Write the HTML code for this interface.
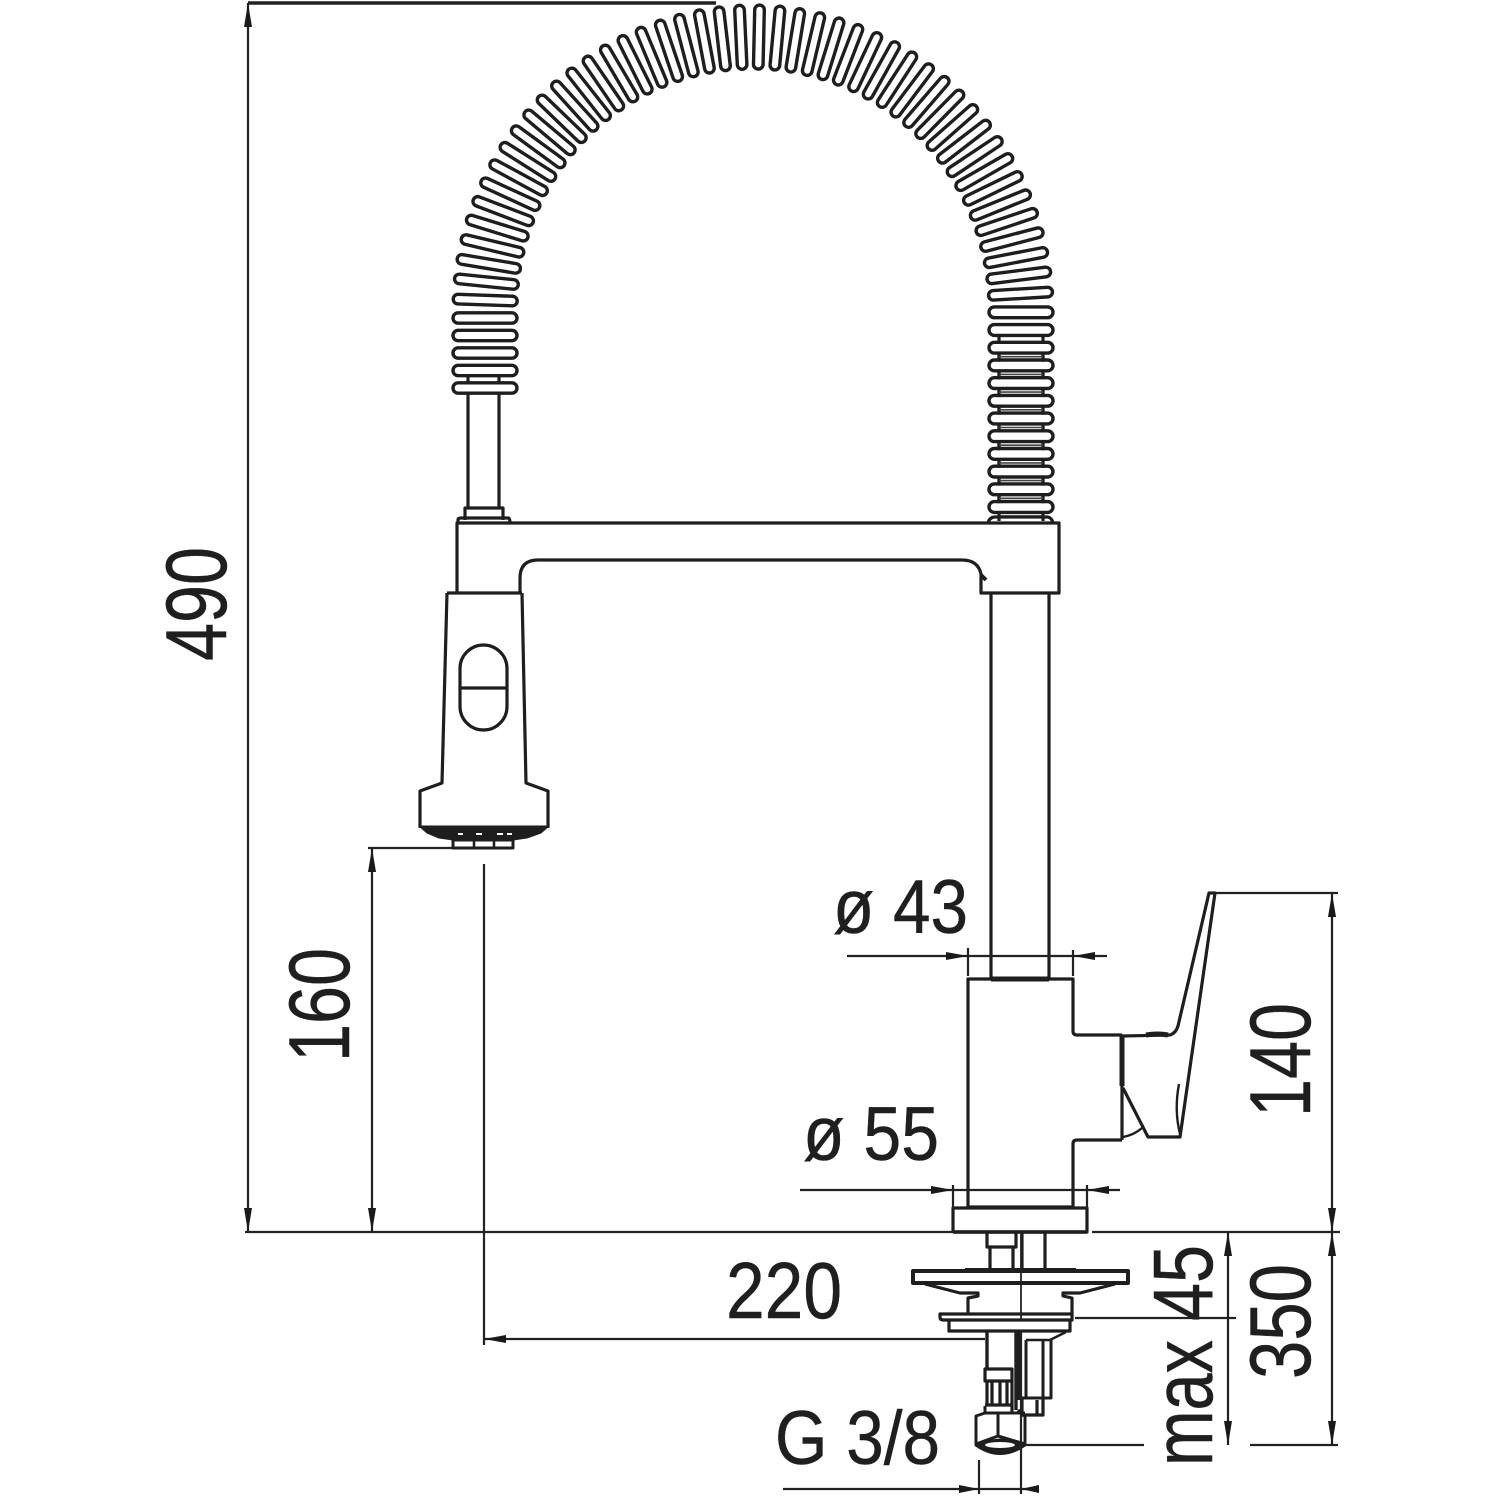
<!DOCTYPE html>
<html><head><meta charset="utf-8"><style>
html,body{margin:0;padding:0;background:#fff}
svg{display:block}
text{font-family:"Liberation Sans",sans-serif;fill:#1f1f1f;stroke:#1f1f1f;stroke-width:.5}
</style></head><body>
<svg id="s" width="1500" height="1500" viewBox="0 0 1500 1500" xmlns="http://www.w3.org/2000/svg">
<rect width="1500" height="1500" fill="#fff"/>
<g id="spring"></g>

<g fill="none" stroke="#1e1e1e" stroke-width="3.2" stroke-linejoin="round">
<!-- left post -->
<path d="M468 393V508M499 393V508M468 376V383M499 376V383"/>
<path d="M465 520V508H503V520M458 523V520Q458 518 461 518H508Q510 518 510 523" />
<!-- bridge -->
<path d="M457 592V523H1059V593H981V574Q978 560 962 560H538Q520 560 520 578V592"/>
<path d="M981 575L986 580" stroke-width="4"/>
<path d="M988 523Q989 518 994 517H1048Q1052 518 1053 523"/>
<!-- spray head -->
<path d="M447 593H522M447 593L442 783L420 791V828M522 593L526 783L548 791V828"/>
<rect x="460" y="645" width="47" height="85" rx="23.5"/>
<path d="M460 688H507"/>
<path d="M419 826H549L541 833L527 838L513 840H453L439 838L427 833Z" fill="#1e1e1e" stroke-width="1"/>
<path d="M458 834h5M476 834h6M497 834h6M507 834h5" stroke="#fff" stroke-width="2"/>
<path d="M453 840H513V848H453Z" stroke-width="3" fill="#fff"/>
<path d="M474 840V848M494 840V848" stroke-width="2.5"/>
<!-- column -->
<path d="M991 593V979M1049 593V979"/>
<path d="M991 979H1049" stroke-width="5"/>
<!-- body -->
<path d="M968 1207V979H1073V1031Q1073 1035 1077 1035H1122"/>
<path d="M968 1207H1073V1144Q1073 1140 1077 1140H1122"/>
<path d="M1122 1036V1086" stroke-width="5"/>
<path d="M1122 1086V1140"/>
<!-- handle -->
<path d="M1122 1036L1170 1035Q1176 1033 1178 1026L1209 893H1215L1180 1137H1148L1123 1088"/>
<path d="M1146 1035Q1158 1033 1168 1035" stroke-width="5"/>
<path d="M1123 1137Q1134 1135 1142 1128" stroke-width="2.4"/>
<path d="M1179 1084Q1174 1110 1180 1134" stroke-width="2.4"/>
<!-- flange -->
<path d="M953 1232V1208H1087V1232H953" />
<path d="M953 1232H1087" stroke-width="3.6"/>
<!-- under deck -->
<path d="M987 1233V1247H990V1270M1016 1233V1247H1013V1270"/>
<path d="M990 1247H1013"/>
<path d="M1022 1233V1270M1045 1233V1270"/>
<rect x="913" y="1271" width="215" height="12" stroke-width="4"/>
<path d="M965 1270H1076" stroke-width="4"/>
<path d="M925 1284L960 1293H978V1296L968 1298V1314M1115 1284L1080 1293H1063V1296L1072 1298V1314"/>
<path d="M940 1314H1072V1320H943Q940 1320 940 1317Z" />
<path d="M949 1320V1331H1070V1320"/>
<path d="M987 1331V1368M1016 1331V1410" stroke-width="3.4"/>
<path d="M1018 1331V1400" stroke-width="5"/>
<path d="M1026 1340V1398M1043 1340V1398M1051 1340V1398H1020" stroke-width="3"/>
<path d="M1026 1340H1050L1066 1332" stroke-width="2.4"/>
<path d="M1022 1398V1415H1043V1398M1018 1410L1024 1416M1037 1400V1414"/>
<path d="M985 1369H1012V1381H985Z M992 1381V1404M1000 1381V1404M1007 1381V1404M987 1381V1405M1012 1381V1405"/>
<path d="M985 1405H1012V1413"/>
<path d="M985 1406V1413L976 1416V1444M1025 1416V1444M985 1413H1025M998 1413V1436M976 1444L998 1436L1025 1444" stroke-width="3"/>
<path d="M976 1445Q1000 1462 1025 1445Q1015 1441 1000 1440Q985 1441 976 1445Z" fill="#1e1e1e" stroke-width="3"/>
<ellipse cx="1000" cy="1445" rx="15" ry="3" fill="#fff" stroke="none"/>
</g>

<!-- dimension lines -->
<g fill="none" stroke="#222" stroke-width="2.2">
<path d="M245 1232H953M1092 1232H1340"/>
<path d="M248 3V1232" />
<path d="M248 3H716" stroke-width="3.4"/>
<path d="M368 848H453M372 848V1232"/>
<path d="M484 864V1345M484 1339H985"/>
<path d="M1214 893H1338M1332 893V1445M1250 1445H1338"/>
<path d="M1228 1232V1445M1075 1318H1236M1025 1445H1144"/>
<path d="M847 956H1107M968 948V976M1073 950V976"/>
<path d="M800 1190H1120M953 1185V1208M1087 1185V1208"/>
<path d="M783 1489H1039M979 1460V1494M1021 1330V1494"/>
<path d="M1021 1233V1320" stroke-width="1.8"/>
</g>
<g fill="#1a1a1a">
<path d="M248 3l-4 24h8zM248 1232l-4-24h8z"/>
<path d="M372 848l-4 24h8zM372 1232l-4-24h8z"/>
<path d="M1332 893l-4 24h8zM1332 1232l-4-24h8zM1332 1232l-4 24h8zM1332 1445l-4-24h8z"/>
<path d="M1228 1232l-4 24h8zM1228 1445l-4-24h8z"/>
<path d="M484 1339l22-4v8z"/>
<path d="M968 956l-22-4v8zM1073 956l22-4v8z"/>
<path d="M953 1190l-22-4v8zM1087 1190l22-4v8z"/>
<path d="M979 1489l-20-4v8zM1021 1489l18-4v8z"/>
</g>

<!-- labels -->
<text transform="translate(226,661) rotate(-90)" font-size="86" textLength="114" lengthAdjust="spacingAndGlyphs">490</text>
<text transform="translate(349,1062) rotate(-90)" font-size="86" textLength="114" lengthAdjust="spacingAndGlyphs">160</text>
<text transform="translate(1310,1117) rotate(-90)" font-size="86" textLength="114" lengthAdjust="spacingAndGlyphs">140</text>
<text transform="translate(1310,1379) rotate(-90)" font-size="86" textLength="115" lengthAdjust="spacingAndGlyphs">350</text>
<text transform="translate(1212,1321) rotate(-90)" font-size="84" textLength="76" lengthAdjust="spacingAndGlyphs">45</text>
<text transform="translate(1212,1466) rotate(-90)" font-size="84" textLength="126" lengthAdjust="spacingAndGlyphs">max</text>
<text x="726" y="1318" font-size="80" textLength="116" lengthAdjust="spacingAndGlyphs">220</text>
<text x="833" y="933" font-size="76" textLength="135" lengthAdjust="spacingAndGlyphs">ø 43</text>
<text x="803" y="1160" font-size="76" textLength="136" lengthAdjust="spacingAndGlyphs">ø 55</text>
<text x="775" y="1464" font-size="76" textLength="165" lengthAdjust="spacingAndGlyphs">G 3/8</text>
</svg>
<script>
(function(){
var g=document.getElementById('spring');
var out='',i,k,y;
function pill(x,yy,ang,h,rail){
 var tr='translate('+x.toFixed(1)+' '+yy.toFixed(1)+') rotate('+ang.toFixed(1)+')';
 if(rail)out+='<path transform="'+tr+'" d="M-22 -14V14M22 -14V14" stroke="#1e1e1e" stroke-width="3.2" fill="none"/><path transform="'+tr+'" d="M-22 9H22" stroke="#444" stroke-width="1.6" fill="none"/>';
 out+='<rect transform="'+tr+'" x="-32" y="'+(-h/2)+'" width="64" height="'+h+'" rx="'+(h/2)+'" fill="#fff" stroke="#1e1e1e" stroke-width="3.4"/>';
}
/* arc */
var a=268,b=273,cx=753,cy=310,pts=[],s=[0];
for(i=0;i<=2000;i++){var t=Math.PI*i/2000;pts.push([cx-a*Math.cos(t),cy-b*Math.sin(t)]);
 if(i)s[i]=s[i-1]+Math.hypot(pts[i][0]-pts[i-1][0],pts[i][1]-pts[i-1][1]);}
var L=s[2000],N=45,d0=10,d1=L-16;
k=0;
for(var n=0;n<=N;n++){
 var d=d0+(d1-d0)*n/N;while(k<1999&&s[k+1]<d)k++;
 var pp=pts[Math.max(0,k-10)],qq=pts[Math.min(2000,k+10)];
 var ang=Math.atan2(qq[1]-pp[1],qq[0]-pp[0])*180/Math.PI+90;
 pill(pts[k][0],pts[k][1],ang,9.6,false);
}
/* left straight */
[318,335.5,353,370.5,388].forEach(function(v){pill(485,v,0,10.4,false);});
/* right straight */
for(i=0;i<12;i++){y=507-17.7*i;pill(1021,y,0,10.8,y>340);}
g.innerHTML=out;
})();
</script>
</body></html>
